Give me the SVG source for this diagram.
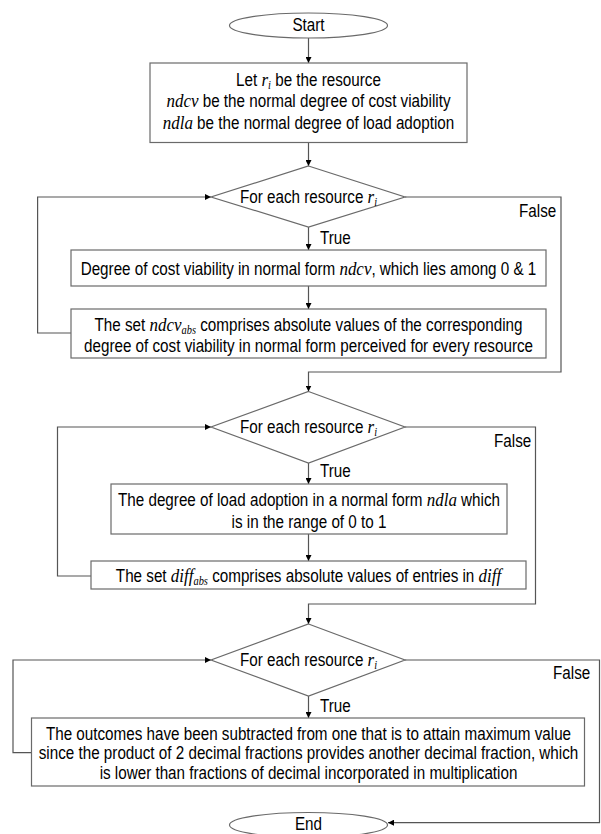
<svg xmlns="http://www.w3.org/2000/svg" width="601" height="834" viewBox="0 0 601 834">
  <style>
    .t { font-family: "Liberation Sans", Arial, sans-serif; font-size: 17.5px; fill: #000; }
    .c { text-anchor: middle; }
    .m { font-family: "Liberation Serif", "Times New Roman", serif; font-style: italic; font-size: 19.5px; }
    .sub { font-size: 12px; }
    .shape { fill: #fff; stroke: #6a6a6a; stroke-width: 1.2; }
    .edge { fill: none; stroke: #555; stroke-width: 1.2; }
  </style>
  <defs>
    <marker id="arrow" viewBox="0 0 6 6" refX="6" refY="3" markerWidth="6" markerHeight="6" markerUnits="userSpaceOnUse" orient="auto">
      <path d="M0,0 L6,3 L0,6 z" fill="#000"/>
    </marker>
  </defs>

  <!-- connectors -->
  <g id="connectors" class="edge" marker-end="url(#arrow)">
    <path d="M308.5,38 V63"/>
    <path d="M308.5,142.5 V166"/>
    <path d="M308.5,227 V250"/>
    <path d="M308.5,286 V309"/>
    <path d="M71,333 H37.6 V197 H211"/>
    <path d="M405,197 H561 V372 H308.5 V391.5"/>
    <path d="M308.5,463 V484"/>
    <path d="M308.5,534 V561"/>
    <path d="M91,576 H57.5 V427 H211"/>
    <path d="M405,427 H535.5 V604 H308.5 V624"/>
    <path d="M308.5,696 V718"/>
    <path d="M31.5,752.7 H13 V660 H211"/>
    <path d="M405,660 H599.5 V822.7 H388"/>
  </g>

  <!-- edge labels -->
  <g id="labels" class="t">
    <text transform="translate(320 0) scale(0.87 1)" x="0" y="244">True</text>
    <text transform="translate(519 0) scale(0.87 1)" x="0" y="217">False</text>
    <text transform="translate(320 0) scale(0.87 1)" x="0" y="477">True</text>
    <text transform="translate(494 0) scale(0.87 1)" x="0" y="447">False</text>
    <text transform="translate(320 0) scale(0.87 1)" x="0" y="712">True</text>
    <text transform="translate(553 0) scale(0.87 1)" x="0" y="679">False</text>
  </g>

  <g id="start">
    <ellipse class="shape" cx="308.5" cy="25.5" rx="79" ry="12.5"/>
    <text class="t c" transform="translate(308.5 0) scale(0.87 1)" x="0" y="31">Start</text>
  </g>

  <g id="init">
    <rect class="shape" x="150" y="63" width="317" height="79.5"/>
    <g class="t c" transform="translate(308.5 0) scale(0.87 1)">
      <text x="0" y="86">Let <tspan class="m">r</tspan><tspan class="m sub" dy="3">i</tspan><tspan dy="-3"> be the resource</tspan></text>
      <text x="0" y="107.5"><tspan class="m">ndcv</tspan> be the normal degree of cost viability</text>
      <text x="0" y="129.5"><tspan class="m">ndla</tspan> be the normal degree of load adoption</text>
    </g>
  </g>

  <g id="loop1">
    <polygon class="shape" points="308.5,166 405,197 308.5,227 211,197"/>
    <text class="t c" transform="translate(308.5 0) scale(0.87 1)" x="0" y="203">For each resource <tspan class="m">r</tspan><tspan class="m sub" dy="3">i</tspan></text>
  </g>

  <g id="ndcv">
    <rect class="shape" x="71" y="250" width="475" height="36"/>
    <text class="t c" transform="translate(308.5 0) scale(0.87 1)" x="0" y="275">Degree of cost viability in normal form <tspan class="m">ndcv</tspan>, which lies among 0 &amp; 1</text>
  </g>

  <g id="ndcv-abs">
    <rect class="shape" x="71" y="309" width="475" height="49"/>
    <g class="t c" transform="translate(308.5 0) scale(0.87 1)">
      <text x="0" y="331.5">The set <tspan class="m">ndcv</tspan><tspan class="m sub" dy="3">abs</tspan><tspan dy="-3"> comprises absolute values of the corresponding</tspan></text>
      <text x="0" y="352.5">degree of cost viability in normal form perceived for every resource</text>
    </g>
  </g>

  <g id="loop2">
    <polygon class="shape" points="308.5,391.5 405,427 308.5,463 211,427"/>
    <text class="t c" transform="translate(308.5 0) scale(0.87 1)" x="0" y="433">For each resource <tspan class="m">r</tspan><tspan class="m sub" dy="3">i</tspan></text>
  </g>

  <g id="ndla">
    <rect class="shape" x="111" y="484" width="396" height="50"/>
    <g class="t c" transform="translate(309 0) scale(0.87 1)">
      <text x="0" y="506.5">The degree of load adoption in a normal form <tspan class="m">ndla</tspan> which</text>
      <text x="0" y="528">is in the range of 0 to 1</text>
    </g>
  </g>

  <g id="diff-abs">
    <rect class="shape" x="91" y="561" width="435" height="28"/>
    <text class="t c" transform="translate(308.5 0) scale(0.87 1)" x="0" y="582.5">The set <tspan class="m">diff</tspan><tspan class="m sub" dy="3">abs</tspan><tspan dy="-3"> comprises absolute values of entries in </tspan><tspan class="m">diff</tspan></text>
  </g>

  <g id="loop3">
    <polygon class="shape" points="308.5,624 405,660 308.5,696 211,660"/>
    <text class="t c" transform="translate(308.5 0) scale(0.87 1)" x="0" y="666">For each resource <tspan class="m">r</tspan><tspan class="m sub" dy="3">i</tspan></text>
  </g>

  <g id="outcome">
    <rect class="shape" x="31.5" y="718" width="553" height="68"/>
    <g class="t c" transform="translate(308.5 0) scale(0.87 1)">
      <text x="0" y="740">The outcomes have been subtracted from one that is to attain maximum value</text>
      <text x="0" y="759.5">since the product of 2 decimal fractions provides another decimal fraction, which</text>
      <text x="0" y="779">is lower than fractions of decimal incorporated in multiplication</text>
    </g>
  </g>

  <g id="end">
    <ellipse class="shape" cx="308.5" cy="825" rx="79" ry="12.5"/>
    <text class="t c" transform="translate(308.5 0) scale(0.87 1)" x="0" y="830">End</text>
  </g>
</svg>
